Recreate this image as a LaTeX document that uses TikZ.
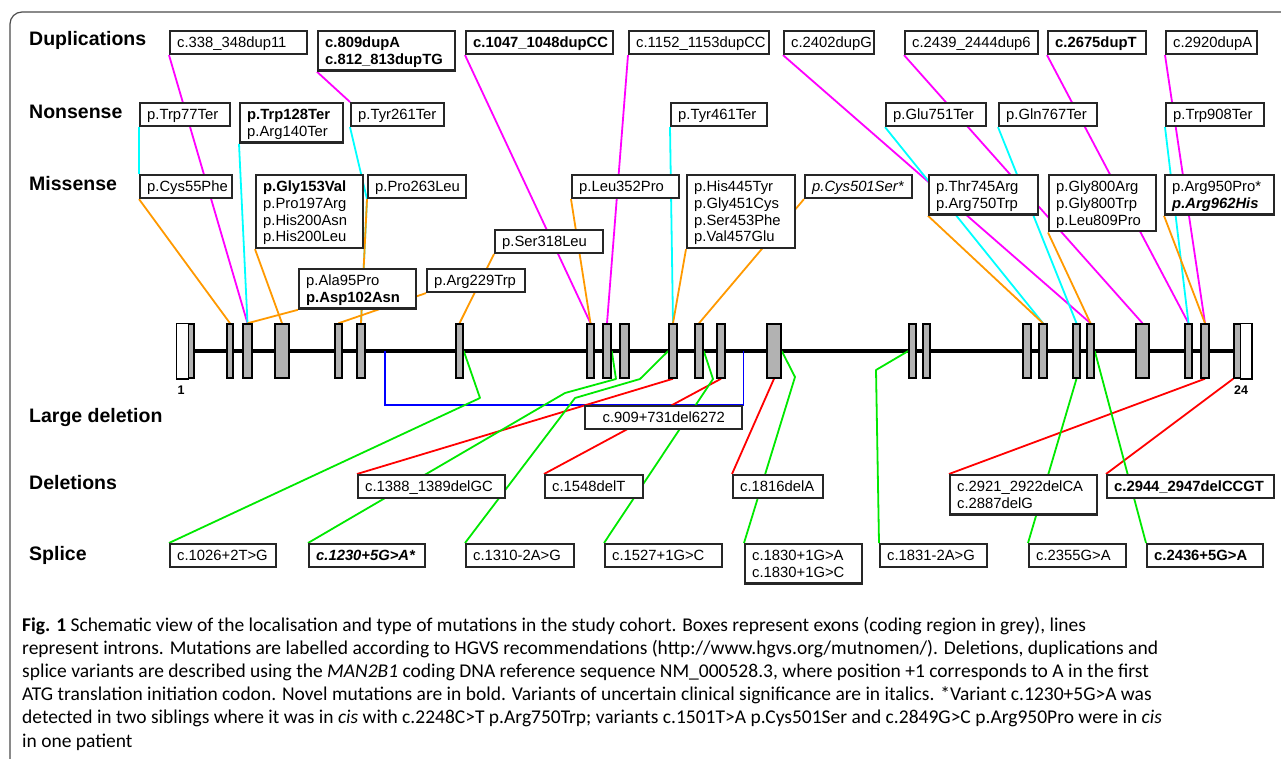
\documentclass[tikz,border=0pt]{standalone}
\usepackage{fontspec}
\setmainfont{Liberation Sans}
\newfontfamily\capfont{Carlito}
\usetikzlibrary{backgrounds}
\definecolor{dupcol}{RGB}{255,0,255}
\definecolor{noncol}{RGB}{0,255,255}
\definecolor{miscol}{RGB}{255,153,0}
\definecolor{delcol}{RGB}{255,0,0}
\definecolor{splcol}{RGB}{0,232,0}
\definecolor{ldelcol}{RGB}{0,0,255}
\definecolor{exongray}{RGB}{178,178,178}
\newcommand{\mutfont}{\fontsize{14.8}{16.7}\selectfont}
\newcommand{\mutstrut}{\rule[-3.2pt]{0pt}{16.7pt}}
\tikzstyle{mutbox}=[rectangle, draw=black!85, line width=2.4pt, fill=white,
                    anchor=north west, inner xsep=7pt, inner ysep=3pt,
                    font=\mutfont, align=left,
                    execute at begin node=\mutstrut,
                    execute at end node=\mutstrut]
\tikzstyle{exon}=[rectangle, draw=black, line width=1.5pt, fill=exongray,
                  minimum height=54pt, inner sep=0pt]

\begin{document}
\begin{tikzpicture}[x=1pt,y=-1pt]
  \tikzstyle{cattext}=[anchor=base west, inner sep=0pt, font=\fontsize{19.5}{22}\bfseries\selectfont]
  \tikzstyle{numtext}=[anchor=base, inner sep=0pt, font=\fontsize{12.5}{14}\bfseries\selectfont]
  \tikzstyle{intron}=[line width=4.5pt]
  \tikzstyle{dupline}=[dupcol, line width=1.8pt]
  \tikzstyle{nonline}=[noncol, line width=1.8pt]
  \tikzstyle{misline}=[miscol, line width=1.8pt]
  \tikzstyle{delline}=[delcol, line width=1.8pt]
  \tikzstyle{splline}=[splcol, line width=1.8pt, line join=round]
  \tikzstyle{ldelline}=[ldelcol, line width=1.8pt]
  \useasboundingbox (0,0) rectangle (1281,759);
  \draw [black!70, line width=1.2pt, rounded corners=12pt] (10,800) -- (10,12) -- (1300,12);

  % row labels
  \node (dupl) at (29,46) [cattext] {Duplications};
  \node (nons) at (29,119) [cattext] {Nonsense};
  \node (miss) at (29,191) [cattext] {Missense};
  \node (larg) at (29,422) [cattext] {Large deletion};
  \node (dels) at (29,489) [cattext] {Deletions};
  \node (splc) at (29,560) [cattext] {Splice};

  % exons
  \foreach \n/\x/\w in {1/185.5/17, 2/230/6, 3/247.5/9, 4/282/14, 5/338.5/7,
      6/361/8, 7/459.5/7, 8/590.5/7, 9/607/8, 10/624.5/9, 11/673/8, 12/699/8,
      13/721/8, 14/774/14, 15/912.5/7, 16/926.5/7, 17/1027/8, 18/1043/8,
      19/1076.5/7, 20/1090.5/7, 21/1142.5/13, 22/1188.5/7, 23/1205/8, 24/1242.5/17}
    \node (e\n) at (\x,351) [exon, minimum width=\w pt] {};
  \draw [fill=white, line width=1.5pt] (e1.north west) rectangle ([xshift=12pt]e1.south west);
  \draw [fill=white, line width=1.5pt] ([xshift=7pt]e24.north west) rectangle (e24.south east);
  \node (num1) at (181,394) [numtext] {1};
  \node (num24) at (1241,394) [numtext] {24};

  % duplications
  \node (dupA) at (169,30) [mutbox, text width=123pt] {c.338\_348dup11};
  \node (dupB) at (317,30) [mutbox, text width=123pt] {\textbf{c.809dupA}\\\textbf{c.812\_813dupTG}};
  \node (dupC) at (465,30) [mutbox, text width=133pt] {\textbf{c.1047\_1048dupCC}};
  \node (dupD) at (628,30) [mutbox, text width=126pt] {c.1152\_1153dupCC};
  \node (dupE) at (783,30) [mutbox, text width=76pt] {c.2402dupG};
  \node (dupF) at (904,30) [mutbox, text width=119pt] {c.2439\_2444dup6};
  \node (dupG) at (1047,30) [mutbox, text width=84pt] {\textbf{c.2675dupT}};
  \node (dupH) at (1165,30) [mutbox, text width=77pt] {c.2920dupA};

  % nonsense
  \node (nonA) at (139,102) [mutbox, text width=76pt] {p.Trp77Ter};
  \node (nonB) at (239,102) [mutbox, text width=89pt] {\textbf{p.Trp128Ter}\\p.Arg140Ter};
  \node (nonC) at (350,102) [mutbox, text width=79pt] {p.Tyr261Ter};
  \node (nonD) at (670,102) [mutbox, text width=82pt] {p.Tyr461Ter};
  \node (nonE) at (885,102) [mutbox, text width=86pt] {p.Glu751Ter};
  \node (nonF) at (998,102) [mutbox, text width=84pt] {p.Gln767Ter};
  \node (nonG) at (1165,102) [mutbox, text width=84pt] {p.Trp908Ter};

  % missense
  \node (misA) at (139,174) [mutbox, text width=78pt] {p.Cys55Phe};
  \node (misB) at (255,174) [mutbox, text width=93pt] {\textbf{p.Gly153Val}\\p.Pro197Arg\\p.His200Asn\\p.His200Leu};
  \node (misC) at (367,174) [mutbox, text width=84pt] {p.Pro263Leu};
  \node (misD) at (571,174) [mutbox, text width=93pt] {p.Leu352Pro};
  \node (misE) at (686,174) [mutbox, text width=94pt] {p.His445Tyr\\p.Gly451Cys\\p.Ser453Phe\\p.Val457Glu};
  \node (misF) at (804,174) [mutbox, text width=93pt] {\textit{p.Cys501Ser*}};
  \node (misG) at (928,174) [mutbox, text width=95pt] {p.Thr745Arg\\p.Arg750Trp};
  \node (misH) at (1048,174) [mutbox, text width=93pt] {p.Gly800Arg\\p.Gly800Trp\\p.Leu809Pro};
  \node (misI) at (1164,174) [mutbox, text width=95pt] {p.Arg950Pro*\\\textbf{\textit{p.Arg962His}}};
  \node (misJ) at (298,268) [mutbox, text width=103pt] {p.Ala95Pro\\\textbf{p.Asp102Asn}};
  \node (misK) at (426,268) [mutbox, text width=84pt] {p.Arg229Trp};
  \node (misL) at (494,229) [mutbox, text width=94pt] {p.Ser318Leu};

  % large deletion
  \node (bigdel) at (584,405) [mutbox, text width=143pt, align=center] {c.909+731del6272};

  % deletions
  \node (delA) at (357,474) [mutbox, text width=133pt] {c.1388\_1389delGC};
  \node (delB) at (544,474) [mutbox, text width=84pt] {c.1548delT};
  \node (delC) at (732,474) [mutbox, text width=76pt] {c.1816delA};
  \node (delD) at (949,474) [mutbox, text width=133pt] {c.2921\_2922delCA\\c.2887delG};
  \node (delE) at (1106,474) [mutbox, text width=153pt] {\textbf{c.2944\_2947delCCGT}};

  % splice
  \node (splA) at (169,543) [mutbox, text width=92pt] {c.1026+2T>G};
  \node (splB) at (308,543) [mutbox, text width=102pt] {\textbf{\textit{c.1230+5G>A*}}};
  \node (splC) at (465,543) [mutbox, text width=94pt] {c.1310-2A>G};
  \node (splD) at (604,543) [mutbox, text width=103pt] {c.1527+1G>C};
  \node (splE) at (744,543) [mutbox, text width=103pt] {c.1830+1G>A\\c.1830+1G>C};
  \node (splF) at (879,543) [mutbox, text width=93pt] {c.1831-2A>G};
  \node (splG) at (1028,543) [mutbox, text width=83pt] {c.2355G>A};
  \node (splH) at (1146,543) [mutbox, text width=102pt] {\textbf{c.2436+5G>A}};

  % caption
  \node (caption) at (22,747) [anchor=base west, inner sep=0pt, align=left, font=\capfont\fontsize{19.5}{23.2}\selectfont]
    {\textbf{Fig. 1} Schematic view of the localisation and type of mutations in the study cohort. Boxes represent exons (coding region in grey), lines\\
     represent introns. Mutations are labelled according to HGVS recommendations (http://www.hgvs.org/mutnomen/). Deletions, duplications and\\
     splice variants are described using the \textit{MAN2B1} coding DNA reference sequence NM\_000528.3, where position +1 corresponds to A in the first\\
     ATG translation initiation codon. Novel mutations are in bold. Variants of uncertain clinical significance are in italics. *Variant c.1230+5G>A was\\
     detected in two siblings where it was in \textit{cis} with c.2248C>T p.Arg750Trp; variants c.1501T>A p.Cys501Ser and c.2849G>C p.Arg950Pro were in \textit{cis}\\
     in one patient};

  \begin{scope}[on background layer]
    \draw [intron] (e1.east) -- (e24.west);
    % large deletion bracket
    \coordinate (ldstart) at (385,351);
    \draw [ldelline] (ldstart) -- (ldstart |- bigdel.north) -- (bigdel.north east) -- (bigdel.north east |- ldstart);
    % duplications
    \draw [dupline] (dupA.south west) -- (e3.north);
    \draw [dupline] (dupB.south west) -- (nonC.north west);
    \draw [dupline] (dupC.south west) -- (e8.north);
    \draw [dupline] (dupD.south west) -- (e9.north);
    \draw [dupline] (dupE.south west) -- (e20.north);
    \draw [dupline] (dupF.south west) -- (e21.north);
    \draw [dupline] (dupG.south west) -- (e22.north);
    \draw [dupline] (dupH.south west) -- (e23.north);
    % nonsense
    \draw [nonline] (nonA.south west) -- (misA.north west);
    \draw [nonline] (nonB.south west) -- (e3.north);
    \draw [nonline] (nonC.south west) -- (misC.south west) -- (e6.north);
    \draw [nonline] (nonD.south west) -- (e11.north);
    \draw [nonline] (nonE.south west) -- (e18.north);
    \draw [nonline] (nonF.south west) -- (e19.north);
    \draw [nonline] (nonG.south west) -- (e22.north);
    % missense
    \draw [misline] (misA.south west) -- (e2.north);
    \draw [misline] (misB.south west) -- (e4.north);
    \draw [misline] (misC.south west) -- (e6.north);
    \draw [misline] (misD.south west) -- (e8.north);
    \draw [misline] (misE.south west) -- (e11.north);
    \draw [misline] (misF.south west) -- (e12.north);
    \draw [misline] (misG.south west) -- (e18.north);
    \draw [misline] (misH.south west) -- (e20.north);
    \draw [misline] (misI.south west) -- (e23.north);
    \draw [misline] (misJ.south west) -- (e3.north);
    \draw [misline] (misK.south west) -- (e5.north);
    \draw [misline] (misL.south west) -- (e7.north);
    % deletions
    \draw [delline] (delA.north west) -- (e11.south);
    \draw [delline] (delB.north west) -- (e13.south);
    \draw [delline] (delC.north west) -- (e14.south);
    \draw [delline] (delD.north west) -- (e23.south);
    \draw [delline] (delE.north west) -- (e24.south west);
    % splice
    \coordinate (bendA) at (480,398);
    \coordinate (bendB) at (565,393);
    \coordinate (bendBB) at (616,379);
    \coordinate (bendC) at (575,398);
    \coordinate (bendCC) at (640,379);
    \coordinate (bendD) at (713,379);
    \coordinate (bendE) at (795,377);
    \coordinate (bendF) at (876,370);
    \draw [splline] (splA.north west) -- (bendA) -- (e7.east);
    \draw [splline] (splB.north west) -- (bendB) -- (bendBB) -- (e9.east);
    \draw [splline] (splC.north west) -- (bendC) -- (bendCC) -- (e11.west);
    \draw [splline] (splD.north west) -- (bendD) -- (e12.east);
    \draw [splline] (splE.north west) -- (bendE) -- (e14.east);
    \draw [splline] (splF.north west) -- (bendF) -- (e15.west);
    \draw [splline] (splG.north west) -- (e19.south);
    \draw [splline] (splH.north west) -- (e20.east);
  \end{scope}
\end{tikzpicture}
\end{document}
